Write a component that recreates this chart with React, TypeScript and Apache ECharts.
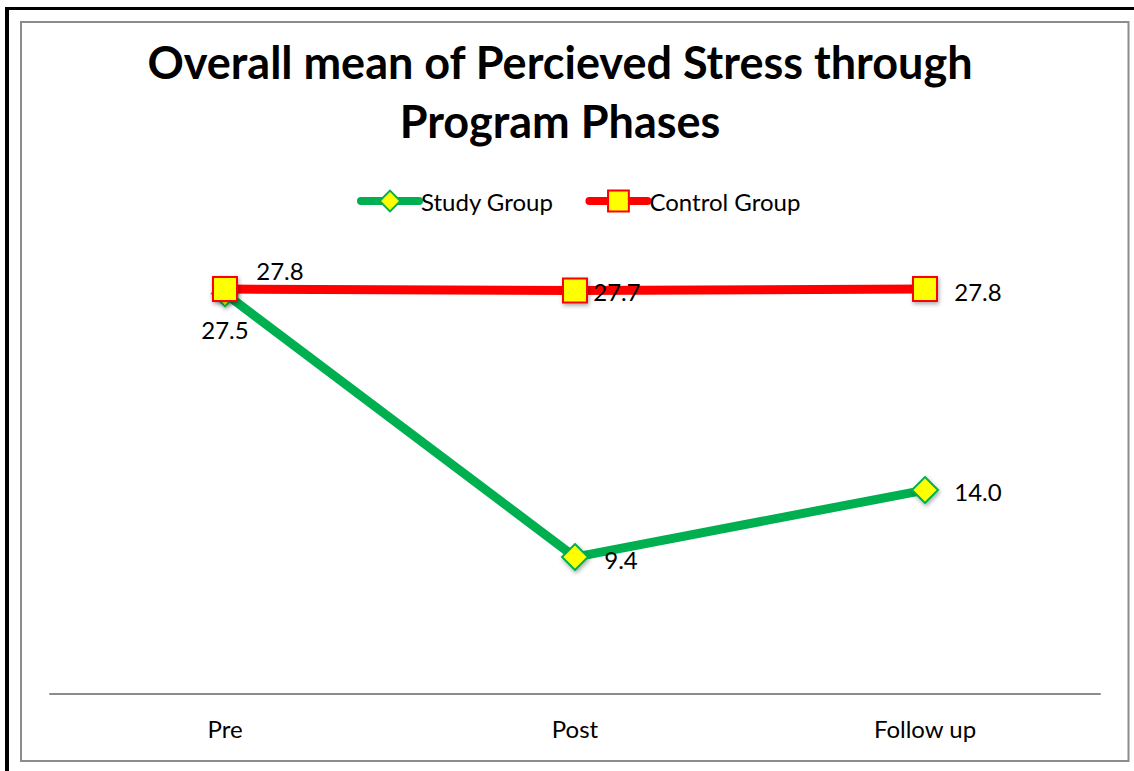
import React, { useEffect, useRef } from "react";
import * as echarts from "echarts";

const categories = ["Pre", "Post", "Follow up"];
const studyGroup = [27.5, 9.4, 14.0];
const controlGroup = [27.8, 27.7, 27.8];
const studyLabelOffsets = [[0, 36], [46, 2], [53, 1]];
const controlLabelOffsets = [[55, -19], [42, 1], [53, 2]];
const titleLines = ["Overall mean of Percieved Stress through", "Program Phases"];

const FONT = "Lato, 'Open Sans', sans-serif";

export default function App() {
  const ref = useRef<HTMLDivElement>(null);
  useEffect(() => {
    document.body.style.margin = "0";
    const chart = echarts.init(ref.current!, undefined, { renderer: "svg" });
    const labelStyle = { color: "#000", fontSize: 24, fontFamily: FONT };
    chart.setOption({
      animation: false,
      backgroundColor: "#fff",
      textStyle: { fontFamily: FONT },
      graphic: [
        { type: "rect", shape: { x: 5, y: 7, width: 4, height: 764 }, style: { fill: "#000" }, silent: true },
        { type: "rect", shape: { x: 5, y: 7, width: 1129, height: 3 }, style: { fill: "#000" }, silent: true },
        { type: "rect", shape: { x: 21, y: 22, width: 1107.5, height: 739 }, style: { fill: "none", stroke: "#8c8c8c", lineWidth: 2 }, silent: true },
        {
          type: "text", x: 560, y: 62,
          style: { text: titleLines[0], font: `bold 45px ${FONT}`, fill: "#000", textAlign: "center", textVerticalAlign: "middle" },
        },
        {
          type: "text", x: 560, y: 121,
          style: { text: titleLines[1], font: `bold 45px ${FONT}`, fill: "#000", textAlign: "center", textVerticalAlign: "middle" },
        },
      ],
      legend: {
        top: 184,
        left: 352,
        itemWidth: 58,
        itemHeight: 26,
        itemGap: 32,
        lineStyle: { width: 8, cap: "round" },
        textStyle: { fontSize: 24, color: "#000", fontFamily: FONT, padding: [0, 0, 0, -3] },
        data: ["Study Group", "Control Group"],
      },
      grid: { left: 50, right: 34, top: 257, bottom: 77 },
      xAxis: {
        type: "category",
        data: categories,
        boundaryGap: true,
        axisLine: { lineStyle: { color: "#8c8c8c", width: 2 } },
        axisTick: { show: false },
        axisLabel: { color: "#000", fontSize: 24, fontFamily: FONT, margin: 22 },
      },
      yAxis: { type: "value", min: 0, max: 30, show: false, splitLine: { show: false } },
      series: [
        {
          name: "Study Group",
          type: "line",
          data: studyGroup.map((v, i) => ({
            value: v,
            label: { show: true, position: "inside", offset: studyLabelOffsets[i], formatter: (p: any) => p.value.toFixed(1), ...labelStyle },
          })),
          lineStyle: { color: "#00B050", width: 9 },
          symbol: "diamond",
          symbolSize: 26,
          itemStyle: { color: "#FFFF00", borderColor: "#00B050", borderWidth: 2, shadowBlur: 4, shadowColor: "rgba(0,0,0,0.35)", shadowOffsetX: 1, shadowOffsetY: 2 },
          z: 2,
        },
        {
          name: "Control Group",
          type: "line",
          data: controlGroup.map((v, i) => ({
            value: v,
            label: { show: true, position: "inside", offset: controlLabelOffsets[i], formatter: (p: any) => p.value.toFixed(1), ...labelStyle },
          })),
          lineStyle: { color: "#FF0000", width: 9 },
          symbol: "rect",
          symbolSize: 24,
          itemStyle: { color: "#FFFF00", borderColor: "#FF0000", borderWidth: 2, shadowBlur: 4, shadowColor: "rgba(0,0,0,0.35)", shadowOffsetX: 1, shadowOffsetY: 2 },
          z: 3,
        },
      ],
    });
    return () => chart.dispose();
  }, []);
  return <div ref={ref} style={{ width: 1134, height: 771, position: "absolute", left: 0, top: 0 }} />;
}
